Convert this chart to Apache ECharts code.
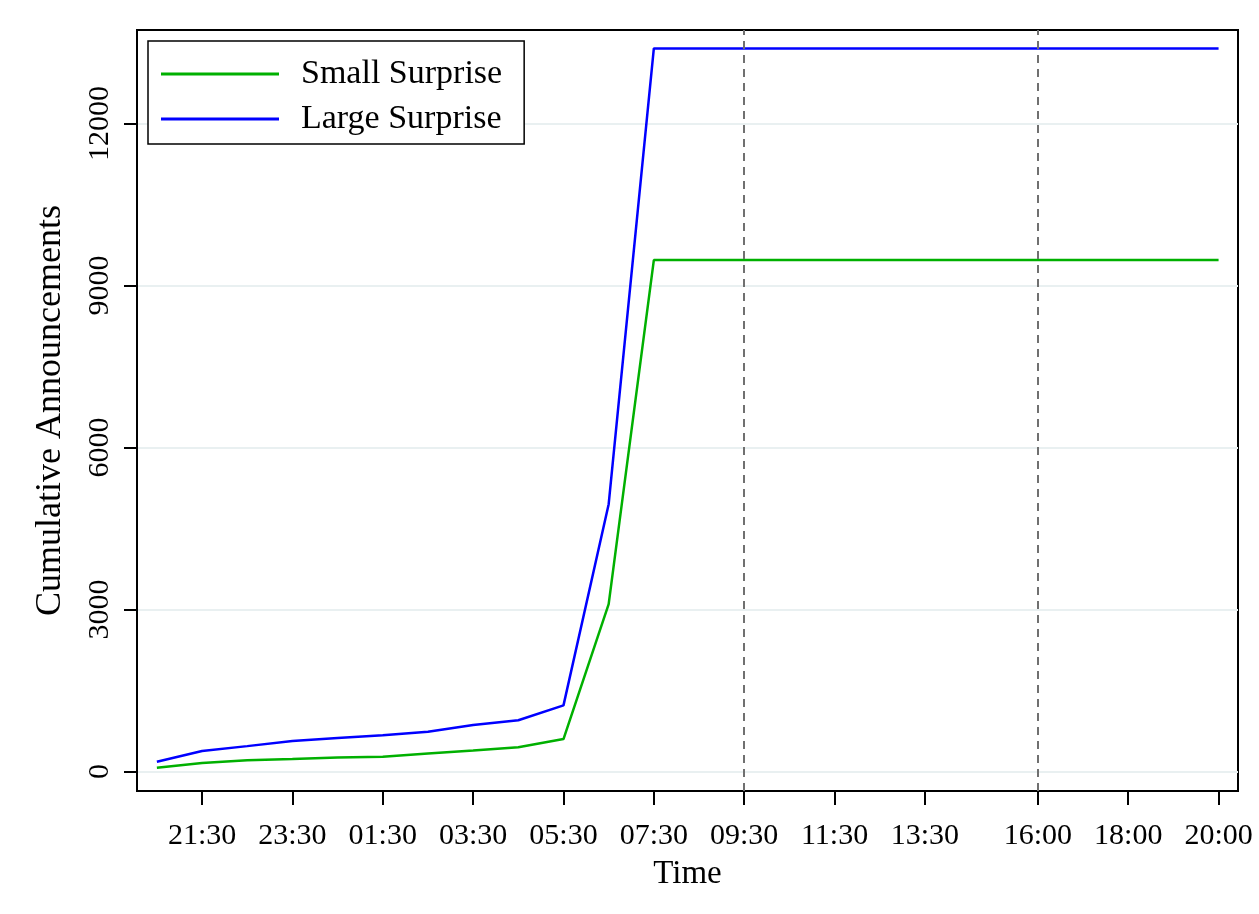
<!DOCTYPE html>
<html>
<head>
<meta charset="utf-8">
<script src="https://cdn.jsdelivr.net/npm/echarts@6/dist/echarts.min.js"></script>
<style>
  html, body { margin: 0; padding: 0; background: #fff; }
  #chart { width: 1259px; height: 914px; }
</style>
</head>
<body>
<div id="chart"></div>
<script>
// Hours elapsed since 20:30 of the previous evening
const hours = [0, 1, 2, 3, 4, 5, 6, 7, 8, 9, 10, 11, 23.5];
const smallSurprise = [70, 157, 207, 230, 260, 275, 335, 390, 450, 600, 3100, 9470, 9470];
const largeSurprise = [180, 380, 470, 565, 620, 670, 735, 860, 950, 1225, 4950, 13390, 13390];

const xTickHours = [1, 3, 5, 7, 9, 11, 13, 15, 17, 19.5, 21.5, 23.5];
const xTickLabels = ['21:30', '23:30', '01:30', '03:30', '05:30', '07:30', '09:30', '11:30', '13:30', '16:00', '18:00', '20:00'];
const yTicks = [0, 3000, 6000, 9000, 12000];
const markerHours = [13, 19.5]; // 09:30 and 16:00

const FONT = '"Liberation Serif", "Times New Roman", serif';

const chart = echarts.init(document.getElementById('chart'), null, { renderer: 'canvas' });

const pair = (ys) => hours.map((h, i) => [h, ys[i]]);

chart.setOption({
  animation: false,
  backgroundColor: '#ffffff',
  grid: {
    left: 137, right: 21, top: 30, bottom: 123,
    show: true, borderColor: '#000', borderWidth: 2, backgroundColor: 'transparent'
  },
  legend: {
    left: 148, top: 41,
    orient: 'vertical',
    padding: [16, 22, 8, 13],
    itemGap: 11,
    itemWidth: 118,
    itemHeight: 3,
    icon: 'rect',
    borderColor: '#000',
    borderWidth: 1.5,
    backgroundColor: '#fff',
    textStyle: { fontFamily: FONT, fontSize: 34, color: '#000', padding: [0, 0, 0, 17] },
    data: ['Small Surprise', 'Large Surprise']
  },
  xAxis: {
    type: 'value',
    min: -0.44, max: 23.93,
    name: 'Time',
    nameLocation: 'middle',
    nameGap: 67,
    nameTextStyle: { fontFamily: FONT, fontSize: 33, color: '#000' },
    axisLine: { show: true, onZero: false, lineStyle: { color: '#000', width: 2 } },
    axisTick: { show: true, length: 14, lineStyle: { color: '#000', width: 2 }, customValues: xTickHours },
    axisLabel: {
      customValues: xTickHours,
      margin: 30,
      fontFamily: FONT, fontSize: 30, color: '#000',
      formatter: (v) => {
        const i = xTickHours.indexOf(v);
        return i >= 0 ? xTickLabels[i] : '';
      }
    },
    splitLine: { show: false }
  },
  yAxis: {
    type: 'value',
    min: -361, max: 13731,
    name: 'Cumulative Announcements',
    nameLocation: 'middle',
    nameGap: 68,
    nameTextStyle: { fontFamily: FONT, fontSize: 36, color: '#000' },
    axisLine: { show: true, onZero: false, lineStyle: { color: '#000', width: 2 } },
    axisTick: { show: true, length: 13, lineStyle: { color: '#000', width: 2 }, customValues: yTicks },
    axisLabel: {
      customValues: yTicks,
      rotate: 90,
      margin: 22,
      fontFamily: FONT, fontSize: 30, color: '#000',
      formatter: (v) => String(Math.round(v))
    },
    splitLine: { show: true, lineStyle: { color: '#e9f0f1', width: 2 } }
  },
  series: [
    {
      name: 'Small Surprise',
      type: 'line',
      data: pair(smallSurprise),
      showSymbol: false,
      color: '#00b000',
      lineStyle: { color: '#00b000', width: 2.5 },
      z: 3,
      markLine: {
        silent: true,
        symbol: 'none',
        label: { show: false },
        lineStyle: { color: '#707070', type: [8, 6], width: 2 },
        data: markerHours.map((h) => ({ xAxis: h }))
      }
    },
    {
      name: 'Large Surprise',
      type: 'line',
      data: pair(largeSurprise),
      showSymbol: false,
      color: '#0000ff',
      lineStyle: { color: '#0000ff', width: 2.5 },
      z: 3
    }
  ]
});
</script>
</body>
</html>
